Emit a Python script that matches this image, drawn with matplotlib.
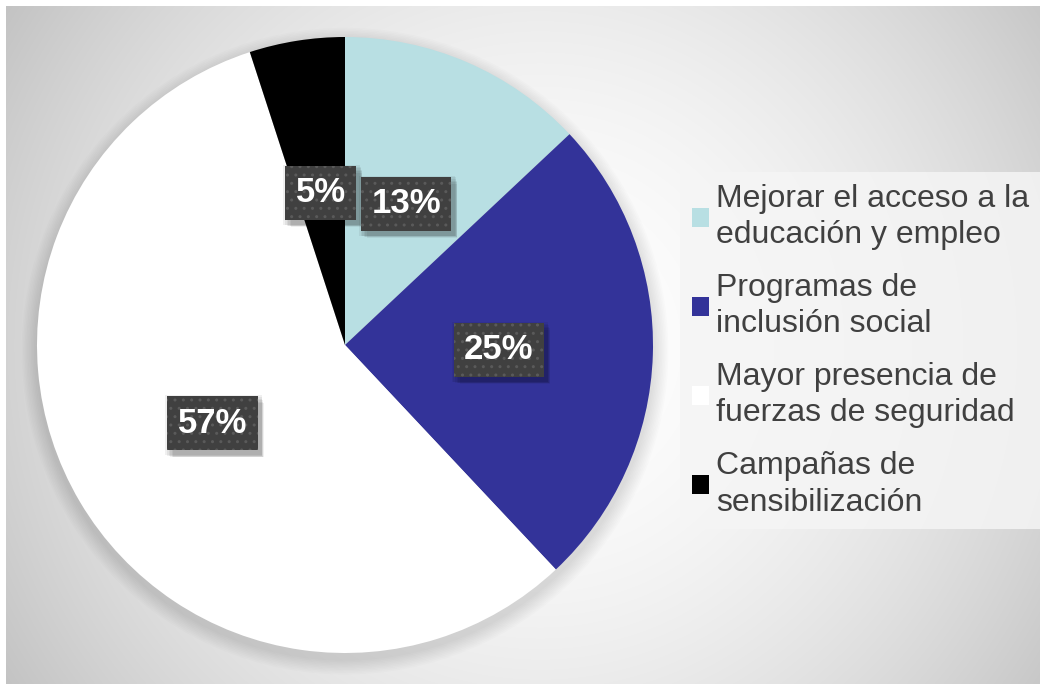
import numpy as np
import matplotlib
matplotlib.use("Agg")
import matplotlib.pyplot as plt
from matplotlib.patches import Patch, Circle, Rectangle

categories = ["Mejorar el acceso a la\neducación y empleo",
              "Programas de\ninclusión social",
              "Mayor presencia de\nfuerzas de seguridad",
              "Campañas de\nsensibilización"]
values = [13, 25, 57, 5]
labels = ["13%", "25%", "57%", "5%"]
colors = ["#B8DFE3", "#333399", "#FFFFFF", "#000000"]

W, H = 1040, 684
fig = plt.figure(figsize=(W / 100, H / 100), dpi=100)
fig.patch.set_facecolor("white")

# background radial gradient panel
bg = fig.add_axes([6 / W, 0, (W - 6) / W, (H - 6) / H])
bg.set_axis_off()
yy, xx = np.mgrid[6:H, 6:W]
d = np.hypot(xx - 540, yy - 345) / 640.0
v = 1.0 - 0.24 * np.clip(d, 0, 1.2) ** 1.8
img = np.dstack([v, v, v])
bg.imshow(img, aspect="auto", extent=[0, 1, 0, 1], interpolation="bilinear")
bg.set_xlim(0, 1)
bg.set_ylim(0, 1)

ax = fig.add_axes([37 / W, 31 / H, 616 / W, 616 / H])
ax.set_axis_off()

# soft shadow around the pie
for i in range(10):
    r = 1.0 + 0.005 * (i + 1)
    ax.add_patch(Circle((0.0, -0.02), r, facecolor="black", alpha=0.012,
                        edgecolor="none", zorder=0, clip_on=False))

wedges, _ = ax.pie(values, colors=colors, startangle=90, counterclock=False,
                   radius=1.0, wedgeprops=dict(linewidth=0), frame=False)
ax.set_xlim(-1, 1)
ax.set_ylim(-1, 1)
ax.set_aspect("equal")

total = sum(values)
cum = 0
texts = []
for val, lab in zip(values, labels):
    mid = 90 - (cum + val / 2) / total * 360
    cum += val
    x = 0.5 * np.cos(np.radians(mid))
    y = 0.5 * np.sin(np.radians(mid))
    t = ax.text(x, y, lab, ha="center", va="center", fontsize=25, fontweight="bold",
                family="Liberation Sans", color="white",
                bbox=dict(boxstyle="square,pad=0.3", facecolor="#404040",
                          edgecolor="#5A5A5A", linewidth=0, hatch=".."), zorder=10)
    texts.append(t)

handles = [Patch(facecolor=c, edgecolor="none") for c in colors]
leg = fig.legend(handles, categories, loc="upper left",
                 bbox_to_anchor=(680 / W, 1 - 172 / H), frameon=True,
                 prop=dict(family="Liberation Sans", size=23),
                 handlelength=0.55, handleheight=0.55, handletextpad=0.2,
                 labelspacing=0.72, borderpad=0.37, borderaxespad=0,
                 fancybox=False)
leg.get_frame().set_facecolor("#F5F5F5")
leg.get_frame().set_edgecolor("none")
leg.get_frame().set_alpha(0.85)
for t in leg.get_texts():
    t.set_color("#404040")
    t.set_linespacing(1.27)

# blurred drop shadows for the label boxes (drawn inside the pie axes, below labels)
fig.canvas.draw()
for t in texts:
    bb = t.get_bbox_patch().get_window_extent()
    for k in range(6):
        off = 1.0 + k * 1.0
        grow = 3 - k * 0.6
        ax.add_artist(Rectangle((bb.x0 + off - grow, bb.y0 - off - 1 - grow),
                                bb.width + 2 * grow, bb.height + 2 * grow,
                                transform=None, facecolor="black",
                                edgecolor="none", alpha=0.06, zorder=5,
                                clip_on=False))

fig.savefig("out.png", dpi=100)
